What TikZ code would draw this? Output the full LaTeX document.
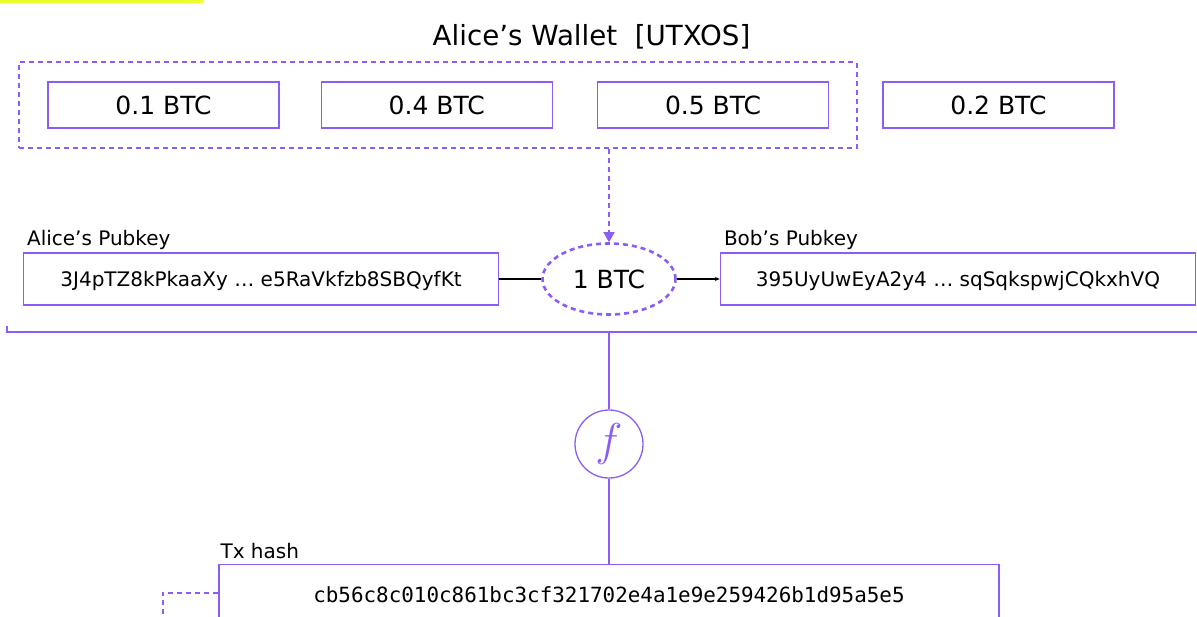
\RequirePackage{fix-cm}
\documentclass[tikz,border=0pt]{standalone}
\usepackage{fontspec}
\setmainfont{DejaVu Sans}
\setmonofont{DejaVu Sans Mono}
\usepackage{xcolor}
\usetikzlibrary{arrows.meta,positioning,fit,shapes.geometric}
\definecolor{utxo}{RGB}{139,92,246}
\definecolor{marker}{RGB}{235,255,45}
\tikzset{%
  % boxes
  box/.style={draw=utxo, line width=1.3pt, inner sep=0pt, text depth=0pt},
  coin/.style={box, minimum width=231pt, minimum height=46pt, font=\fontsize{25}{30}\selectfont, text height=18.2pt},
  pubkey/.style={box, minimum width=475pt, minimum height=52pt, font=\fontsize{20}{24}\selectfont, text height=14.6pt},
  txbox/.style={box, minimum width=780pt, minimum height=62pt, font=\ttfamily\fontsize{20.9}{25}\selectfont, text height=15.2pt},
  amount/.style={ellipse, draw=utxo, line width=2.6pt, dash pattern=on 5pt off 4pt, minimum width=133pt, minimum height=71pt, inner sep=0pt, font=\fontsize{25}{30}\selectfont},
  func/.style={circle, draw=utxo, line width=1.3pt, minimum size=68pt, inner sep=0pt, text=utxo, font=\fontsize{46}{52}\selectfont},
  group/.style={draw=utxo, line width=1.8pt, dash pattern=on 5pt off 4pt, inner xsep=28pt, inner ysep=19pt},
  lbl/.style={font=\fontsize{20}{24}\selectfont, inner sep=0pt, anchor=base west},
  heading/.style={font=\fontsize{27.7}{32}\selectfont, inner sep=0pt, anchor=base},
  % edge styles
  rel/.style={line width=1.3pt},
  pay/.style={rel, -{Stealth[length=5pt, width=4pt]}},
  wire/.style={draw=utxo, line width=1.3pt},
  pick/.style={wire, line width=1.6pt, dash pattern=on 5pt off 4pt, -{Triangle[width=11pt, length=10pt]}},
}

\begin{document}
\begin{tikzpicture}[x=1pt, y=-1pt, node distance=41pt]
  \useasboundingbox (0,0) rectangle (1197,616);
  \clip (0,0) rectangle (1197,616);
  \fill[marker] (0,0) rectangle (203,3);

  % Wallet
  \node[heading] (title) at (591.5,45) {Alice's Wallet~~[UTXOS]};
  \node[coin] (c_01) at (163.5,105) {0.1 BTC};
  \node[coin, right=41pt of c_01] (c_04) {0.4 BTC};
  \node[coin, right=44pt of c_04] (c_05) {0.5 BTC};
  \node[coin, right=53pt of c_05] (c_02) {0.2 BTC};
  \node[group, fit=(c_01)(c_05)] (wallet) {};

  % Transfer
  \node[amount] (btc) at (609,279) {1 BTC};
  \node[pubkey, left=42pt of btc] (k_alice) {3J4pTZ8kPkaaXy \dots{} e5RaVkfzb8SBQyfKt};
  \node[pubkey, right=43pt of btc] (k_bob) {395UyUwEyA2y4 \dots{} sqSqkspwjCQkxhVQ};
  \node[lbl, above right=7pt and 4pt of k_alice.north west, anchor=base west] (l_alice) {Alice's Pubkey};
  \node[lbl, above right=7pt and 4pt of k_bob.north west, anchor=base west] (l_bob) {Bob's Pubkey};

  % Hashing
  \coordinate (brk_l) at (7,326);
  \coordinate (brk) at (1197,332);
  \node[func] (f) at (609,444) {$f$};
  \node[txbox, below=85pt of f] (tx) {cb56c8c010c861bc3cf321702e4a1e9e259426b1d95a5e5};
  \node[lbl, above right=5pt and 2pt of tx.north west, anchor=base west] (l_tx) {Tx hash};
  \coordinate (back) at (163,630);

  % Edges
  \draw[pick] (btc.north |- wallet.south) -- (btc.north);
  \draw[rel] (k_alice) -- (btc);
  \draw[pay] (btc) -- (k_bob);
  \draw[wire] (brk_l) |- (brk);
  \draw[wire] (f.north |- brk) -- (f);
  \draw[wire] (f) -- (tx);
  \draw[wire, line width=1.6pt, dash pattern=on 5pt off 4pt] ([yshift=2.5pt]tx.west) -| (back);
\end{tikzpicture}
\end{document}
